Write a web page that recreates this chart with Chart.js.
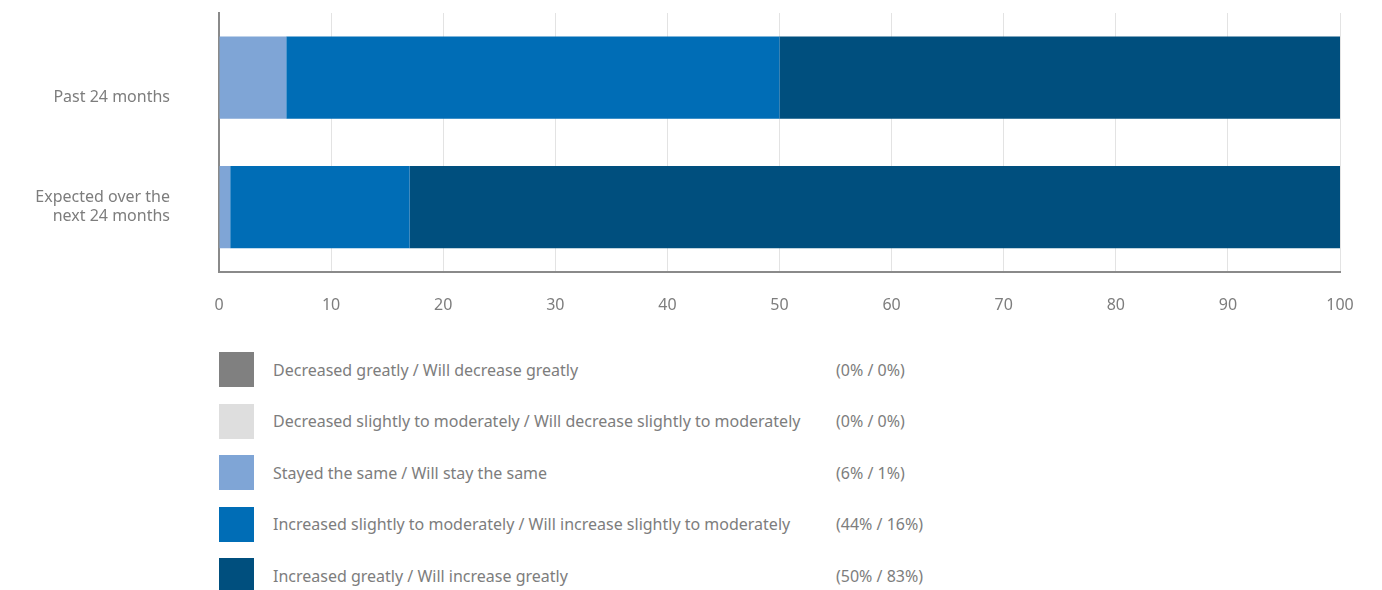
<!DOCTYPE html>
<html>
<head>
<meta charset="utf-8">
<script src="https://cdn.jsdelivr.net/npm/chart.js@4"></script>
<style>
  body { margin: 0; background: #fff; font-family: "Noto Sans", "Open Sans", sans-serif; }
  #wrap { position: relative; width: 1382px; height: 590px; overflow: hidden; }
  #chartBox { position: absolute; left: 0; top: 0; width: 1382px; height: 339px; }
  #legend { position: absolute; left: 219px; top: 352px; }
  .row { display: flex; align-items: center; height: 35px; margin-bottom: 16.6px; color: #7d7d7d; font-size: 16px; }
  .swatch { width: 35px; height: 35px; flex: none; }
  .label { margin-left: 19px; width: 563px; }
</style>
</head>
<body>
<div id="wrap">
  <div id="chartBox"><canvas id="myChart"></canvas></div>
  <div id="legend"></div>
</div>
<script>
// categories and answer groups (blank lines push the first label down)
const periods = [['', '', 'Past 24 months'], ['Expected over the', 'next 24 months']];
const answers = [
    'Decreased greatly / Will decrease greatly',
    'Decreased slightly to moderately / Will decrease slightly to moderately',
    'Stayed the same / Will stay the same',
    'Increased slightly to moderately / Will increase slightly to moderately',
    'Increased greatly / Will increase greatly'
];
// shares in percent, [past, expected]
const decreasedGreatly = [0, 0];
const decreasedSlightly = [0, 0];
const stayedSame = [6, 1];
const increasedSlightly = [44, 16];
const increasedGreatly = [50, 83];
const xTicks = [0, 10, 20, 30, 40, 50, 60, 70, 80, 90, 100];

const colors = ['#808080', '#dedede', '#7fa5d6', '#006db6', '#004f7e'];
const series = [decreasedGreatly, decreasedSlightly, stayedSame, increasedSlightly, increasedGreatly];

const ctx = document.getElementById('myChart').getContext('2d');
const myChart = new Chart(ctx, {
    type: 'bar',
    data: {
        labels: periods,
        datasets: series.map((vals, i) => ({
            label: answers[i],
            data: vals,
            backgroundColor: colors[i],
            borderWidth: 0,
            barPercentage: 0.635,
            categoryPercentage: 1
        }))
    },
    options: {
        indexAxis: 'y',
        responsive: true,
        maintainAspectRatio: false,
        animation: false,
        layout: { padding: { left: 0, right: 42, top: 13, bottom: 0 } },
        plugins: { legend: { display: false }, tooltip: { enabled: false } },
        scales: {
            x: {
                stacked: true,
                min: 0,
                max: 100,
                afterBuildTicks: (axis) => { axis.ticks = xTicks.map(v => ({ value: v })); },
                grid: { color: '#e3e3e3', lineWidth: 1, drawTicks: false },
                border: { color: '#8a8a8a', width: 2 },
                ticks: { color: '#7d7d7d', font: { family: 'Noto Sans', size: 16 }, padding: 24 }
            },
            y: {
                stacked: true,
                grid: { display: false, drawTicks: false },
                border: { color: '#8a8a8a', width: 2 },
                afterFit: (axis) => {
                    axis.width = 219;
                    axis.paddingTop = 0;
                    axis.paddingBottom = 0;
                },
                ticks: { color: '#7d7d7d', font: { family: 'Noto Sans', size: 16, lineHeight: 1.22 }, padding: 49 }
            }
        }
    }
});

// legend rows with both percentages
const legend = document.getElementById('legend');
answers.forEach((name, i) => {
    const row = document.createElement('div');
    row.className = 'row';
    row.innerHTML = '<div class="swatch" style="background:' + colors[i] + '"></div>' +
        '<div class="label">' + name + '</div>' +
        '<div class="pct">(' + series[i][0] + '% / ' + series[i][1] + '%)</div>';
    legend.appendChild(row);
});
</script>
</body>
</html>
